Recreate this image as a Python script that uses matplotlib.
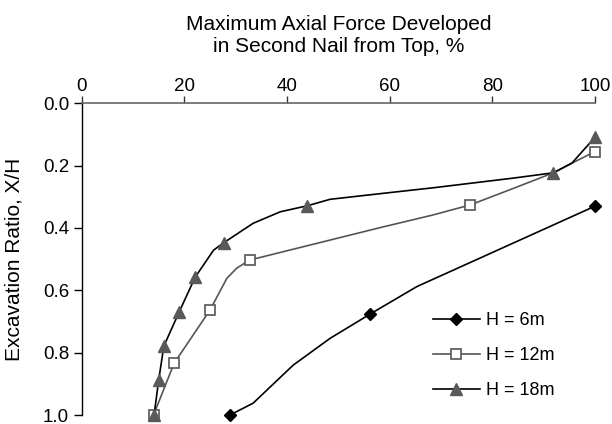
import matplotlib
matplotlib.use("Agg")
import matplotlib.pyplot as plt

plt.rcParams['font.family'] = ['Liberation Sans', 'DejaVu Sans']

h6_x = [28.9, 33.4, 41.2, 48.4, 56.1, 65.3, 100]
h6_y = [1.0, 0.962, 0.84, 0.754, 0.677, 0.588, 0.33]
h6_marks = [0, 4, 6]

h12_x = [14.0, 18.0, 25.0, 28.3, 30.2, 32.7, 58.1, 68.5, 75.7, 84.1, 91.9, 95.5, 100]
h12_y = [1.0, 0.834, 0.663, 0.561, 0.529, 0.503, 0.399, 0.358, 0.326, 0.273, 0.223, 0.192, 0.155]
h12_marks = [0, 1, 2, 5, 8, 12]

h18_x = [14.1, 15.0, 16.0, 19.0, 22.1, 25.7, 27.7, 33.4, 38.7, 43.9, 48.4, 58.1, 68.5, 84.1, 91.9, 95.5, 100]
h18_y = [1.0, 0.888, 0.779, 0.669, 0.558, 0.471, 0.447, 0.385, 0.348, 0.329, 0.308, 0.290, 0.271, 0.240, 0.223, 0.192, 0.109]
h18_marks = [0, 1, 2, 3, 4, 6, 9, 14, 16]

x_ticks = [0, 20, 40, 60, 80, 100]
y_ticks = [0.0, 0.2, 0.4, 0.6, 0.8, 1.0]

fig = plt.figure(figsize=(6.12, 4.24), dpi=100)
ax = fig.add_axes([0.1335, 0.0212, 0.9722 - 0.1335, 0.7564 - 0.0212])

ax.plot(h6_x, h6_y, color='black', lw=1.2, marker='D', ms=6.2,
        mfc='black', mec='black', markevery=h6_marks, label='H = 6m', clip_on=False)
ax.plot(h12_x, h12_y, color='#555555', lw=1.2, marker='s', ms=6.5,
        mfc='white', mec='#555555', mew=1.2, markevery=h12_marks, label='H = 12m', clip_on=False)
ax.plot(h18_x, h18_y, color='black', lw=1.2, marker='^', ms=8.5,
        mfc='#595959', mec='#595959', markevery=h18_marks, label='H = 18m', clip_on=False)

ax.set_xlim(0, 100)
ax.set_ylim(1.0, 0.0)
ax.xaxis.tick_top()
ax.xaxis.set_label_position('top')
ax.set_xticks(x_ticks)
ax.set_yticks(y_ticks)
ax.set_yticklabels(['%.1f' % v for v in y_ticks])

ax.spines['right'].set_visible(False)
ax.spines['bottom'].set_visible(False)
ax.spines['top'].set_color('#666666')
ax.spines['top'].set_linewidth(1.2)
ax.spines['left'].set_color('black')
ax.spines['left'].set_linewidth(1.0)

ax.tick_params(axis='x', direction='out', length=5, width=1.0, colors='#333333',
               labelsize=13.5, labelcolor='black', pad=1)
ax.tick_params(axis='y', direction='out', length=6, width=1.0, colors='black',
               labelsize=13.5, pad=3)

ax.set_xlabel('Maximum Axial Force Developed\nin Second Nail from Top, %', fontsize=15, labelpad=19,
              linespacing=1.2)
ax.set_ylabel('Excavation Ratio, X/H', fontsize=15, labelpad=14)

ax.legend(loc='center left', bbox_to_anchor=(0.684, 0.19), frameon=False, fontsize=13,
          handlelength=2.6, handletextpad=0.35, labelspacing=1.0, borderaxespad=0, borderpad=0)

fig.savefig('out.png', dpi=100)
